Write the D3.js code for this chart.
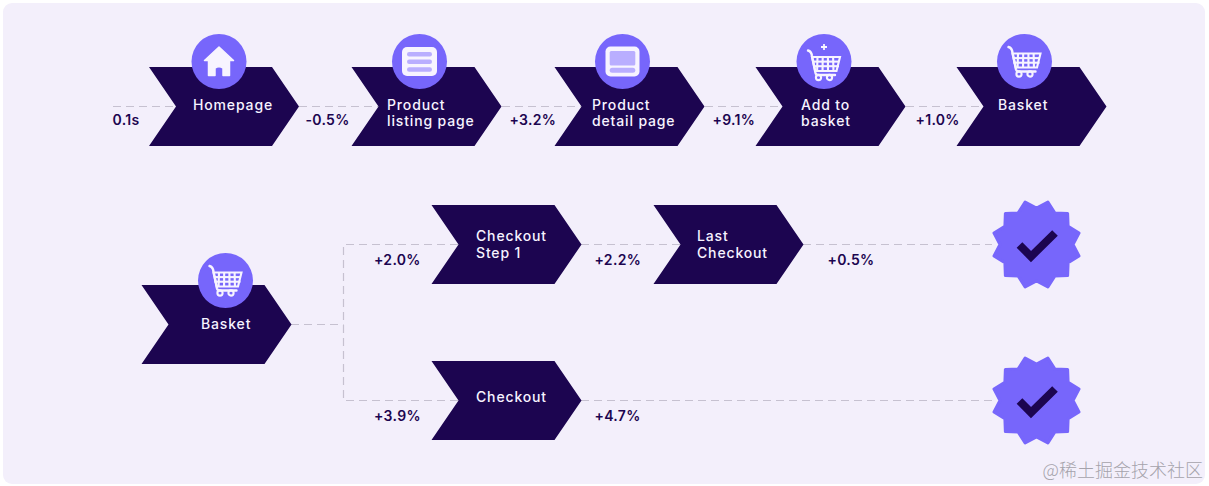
<!DOCTYPE html>
<html>
<head>
<meta charset="utf-8">
<script src="https://cdn.jsdelivr.net/npm/d3@7"></script>
<style>
    html, body { margin: 0; padding: 0; background: #ffffff; overflow: hidden; }
    text { font-family: 'Inter'; }
    .step-label { fill: #f7f3ff; font-size: 14px; font-weight: 500; letter-spacing: 0.85px; }
    .rate-label { fill: #1c0550; font-size: 14px; font-weight: 600; letter-spacing: 0.3px; }
    .link { fill: none; stroke: #c6c1d0; stroke-width: 1.2; stroke-dasharray: 8 5; }
</style>
</head>
<body>
<svg id="chart" width="1209" height="486"></svg>
<script>
// top row
const topSteps = ["home", "list", "detail", "add", "basket"];
const topLabels = [["Homepage"], ["Product", "listing page"], ["Product", "detail page"], ["Add to", "basket"], ["Basket"]];
const topRates = ["0.1s", "-0.5%", "+3.2%", "+9.1%", "+1.0%"];

// bottom block
const lowerSteps = ["basket2", "step1", "last", "checkout"];
const lowerLabels = [["Basket"], ["Checkout", "Step 1"], ["Last", "Checkout"], ["Checkout"]];
const lowerRates = ["+2.0%", "+2.2%", "+0.5%", "+3.9%", "+4.7%"];
const doneSteps = ["done1", "done2"];

const watermark = "@稀土掘金技术社区";

const allSteps = topSteps.concat(lowerSteps);
const allLabels = topLabels.concat(lowerLabels);
const allRates = topRates.concat(lowerRates);

// layout scales, step name to pixel
const xStep = d3.scaleOrdinal().domain(allSteps).range([149, 351.5, 554.5, 755.5, 956.5, 141.5, 431.5, 653.5, 431.5]);
const yStep = d3.scaleOrdinal().domain(allSteps).range([106.5, 106.5, 106.5, 106.5, 106.5, 324.5, 244.5, 244.5, 400.5]);
const xText = d3.scaleOrdinal().domain(allSteps).range([193, 387, 592, 801, 998, 201, 476, 697, 476]);
const yText = d3.scaleOrdinal().domain(allSteps).range([110, 110, 110, 110, 110, 328.5, 241, 241, 401.5]);
const xIcon = d3.scaleOrdinal().domain(allSteps).range([219, 419.5, 622.5, 824, 1024.5, 225.5]);
const xRate = d3.scaleOrdinal().domain(allRates).range([112.5, 305.5, 509.5, 712.5, 915.5, 374, 594.5, 827.5, 374, 594.5]);
const yRate = d3.scaleOrdinal().domain(allRates).range([125, 125, 125, 125, 125, 265, 265, 265, 421, 421]);

const colorDark = "#1c0550";
const colorPurple = "#7766fb";
const colorLight = "#b9aeff";
const colorWhite = "#f7f4ff";

const chevW = 150, chevH = 79, chevN = 27;

const svg = d3.select("#chart");

// background panel
svg.append("rect")
    .attr("x", 3).attr("y", 3)
    .attr("width", 1202).attr("height", 481)
    .attr("rx", 9)
    .attr("fill", "#f3effb");

// dashed connectors
const links = [
    [[113, 106.5], [xStep("home") + chevN, 106.5]],
    [[299, 106.5], [xStep("list") + chevN, 106.5]],
    [[502, 106.5], [xStep("detail") + chevN, 106.5]],
    [[705, 106.5], [xStep("add") + chevN, 106.5]],
    [[906, 106.5], [xStep("basket") + chevN, 106.5]],
    [[291, 324.5], [343.5, 324.5]],
    [[458, 244.5], [343.5, 244.5], [343.5, 400.5], [458, 400.5]],
    [[581, 244.5], [xStep("last") + chevN, 244.5]],
    [[803, 244.5], [992, 244.5]],
    [[581, 400.5], [992, 400.5]]
];
const linkLine = d3.line();
svg.append("g").selectAll("path")
    .data(links)
    .enter().append("path")
    .attr("class", "link")
    .attr("d", d => linkLine(d));

// chevrons
const chevron = d3.line().curve(d3.curveLinearClosed);
svg.append("g").selectAll("path")
    .data(allSteps)
    .enter().append("path")
    .attr("transform", d => `translate(${xStep(d)},${yStep(d)})`)
    .attr("fill", colorDark)
    .attr("d", chevron([
        [0, -chevH / 2], [chevW - chevN, -chevH / 2], [chevW, 0],
        [chevW - chevN, chevH / 2], [0, chevH / 2], [chevN, 0]
    ]));

// labels inside the chevrons
const labelGroup = svg.append("g");
allSteps.forEach((s, i) => {
    allLabels[i].forEach((line, k) => {
        labelGroup.append("text")
            .attr("class", "step-label")
            .attr("x", xText(s))
            .attr("y", yText(s) + k * (i < topSteps.length ? 16 : 17))
            .text(line);
    });
});

// rate labels
svg.append("g").selectAll("text")
    .data(allRates)
    .enter().append("text")
    .attr("class", "rate-label")
    .attr("x", d => xRate(d))
    .attr("y", d => yRate(d))
    .text(d => d);

// icons
const iconSteps = allSteps.filter(s => s !== "step1" && s !== "last" && s !== "checkout");
const icons = svg.append("g").selectAll("g")
    .data(iconSteps)
    .enter().append("g")
    .attr("transform", d => `translate(${xIcon(d)},${d === "basket2" ? 280.5 : 61.5})`);
icons.append("circle").attr("r", 27.5).attr("fill", colorPurple);

function drawHome(g) {
    g.append("path")
        .attr("fill", colorWhite)
        .attr("stroke", colorWhite)
        .attr("stroke-width", 1.5)
        .attr("stroke-linejoin", "round")
        .attr("d", "M0,-14.5 L14.5,-1 L10.5,-1 L10.5,14 L4,14 L4,6.5 Q0,4 -4,6.5 L-4,14 L-10.5,14 L-10.5,-1 L-14.5,-1 Z");
}

function drawList(g) {
    g.append("rect").attr("x", -17.5).attr("y", -14.5).attr("width", 35).attr("height", 29).attr("rx", 5).attr("fill", colorWhite);
    [-9.5, -1.9, 5.8].forEach(y => {
        g.append("rect").attr("x", -12.5).attr("y", y).attr("width", 25).attr("height", 4.4).attr("rx", 2.2).attr("fill", colorLight);
    });
}

function drawDetail(g) {
    g.append("rect").attr("x", -17).attr("y", -15).attr("width", 34).attr("height", 30).attr("rx", 5).attr("fill", colorWhite);
    g.append("rect").attr("x", -12.8).attr("y", -10.5).attr("width", 25.6).attr("height", 14.5).attr("rx", 1.5).attr("fill", colorLight);
    g.append("rect").attr("x", -12.8).attr("y", 6.2).attr("width", 25.6).attr("height", 5).attr("rx", 2.5).attr("fill", colorLight);
}

function drawCart(g, dy) {
    const c = g.append("g")
        .attr("transform", `translate(0,${dy})`)
        .attr("fill", "none")
        .attr("stroke", colorWhite)
        .attr("stroke-width", 2.1);
    // handle, basket outline and rail
    c.append("path").attr("stroke-width", 2.4).attr("stroke-linecap", "round")
        .attr("d", "M-16,-14.5 Q-12.5,-13.5 -12,-9 L-8.5,8 Q-8,10 -6,10 L11,10");
    c.append("path").attr("d", "M-12,-8 L16,-8 L12.5,6 L-8.8,6 Z");
    // basket mesh
    [-6.5, -1.3, 3.9, 9.1].forEach((x, i) => {
        c.append("line").attr("x1", x).attr("y1", -8).attr("x2", x - 0.4 + i * 0.25).attr("y2", 6);
    });
    [-3.4, 1.2].forEach(y => {
        c.append("line").attr("x1", -11).attr("y1", y).attr("x2", 15).attr("y2", y);
    });
    // wheels
    [-5.5, 5.5].forEach(x => {
        c.append("circle").attr("cx", x).attr("cy", 12.5).attr("r", 2.6);
    });
}

icons.each(function(d) {
    const g = d3.select(this);
    if (d === "home") drawHome(g);
    if (d === "list") drawList(g);
    if (d === "detail") drawDetail(g);
    if (d === "add") {
        drawCart(g, 3.5);
        g.append("path").attr("stroke", colorWhite).attr("stroke-width", 1.8).attr("d", "M-3,-14.5 H3 M0,-17.5 V-11.5");
    }
    if (d === "basket" || d === "basket2") drawCart(g, 0);
});

// approval badges at the end of both branches
const xDone = d3.scaleOrdinal().domain(doneSteps).range([1036.5, 1036.5]);
const yDone = d3.scaleOrdinal().domain(doneSteps).range([244.5, 400.5]);
const starAngles = d3.range(24).map(i => i * Math.PI / 12);
const starLine = d3.lineRadial()
    .angle((d, i) => d + Math.PI / 12)
    .radius((d, i) => i % 2 === 0 ? 44 : 36.5)
    .curve(d3.curveLinearClosed);
const badges = svg.append("g").selectAll("g")
    .data(doneSteps)
    .enter().append("g")
    .attr("transform", d => `translate(${xDone(d)},${yDone(d)})`);
badges.append("path")
    .attr("d", starLine(starAngles))
    .attr("fill", colorPurple)
    .attr("stroke", colorPurple)
    .attr("stroke-width", 3)
    .attr("stroke-linejoin", "round");
badges.append("path")
    .attr("d", "M-17,0.5 L-5.5,12 L18.5,-11.5")
    .attr("fill", "none")
    .attr("stroke", colorDark)
    .attr("stroke-width", 8);

// watermark
svg.append("text")
    .attr("x", 1203).attr("y", 477)
    .attr("text-anchor", "end")
    .attr("font-size", 18)
    .attr("fill", "#a5a3ab")
    .style("font-family", "'Noto Sans CJK SC'")
    .style("font-weight", 300)
    .text(watermark);
</script>
</body>
</html>
